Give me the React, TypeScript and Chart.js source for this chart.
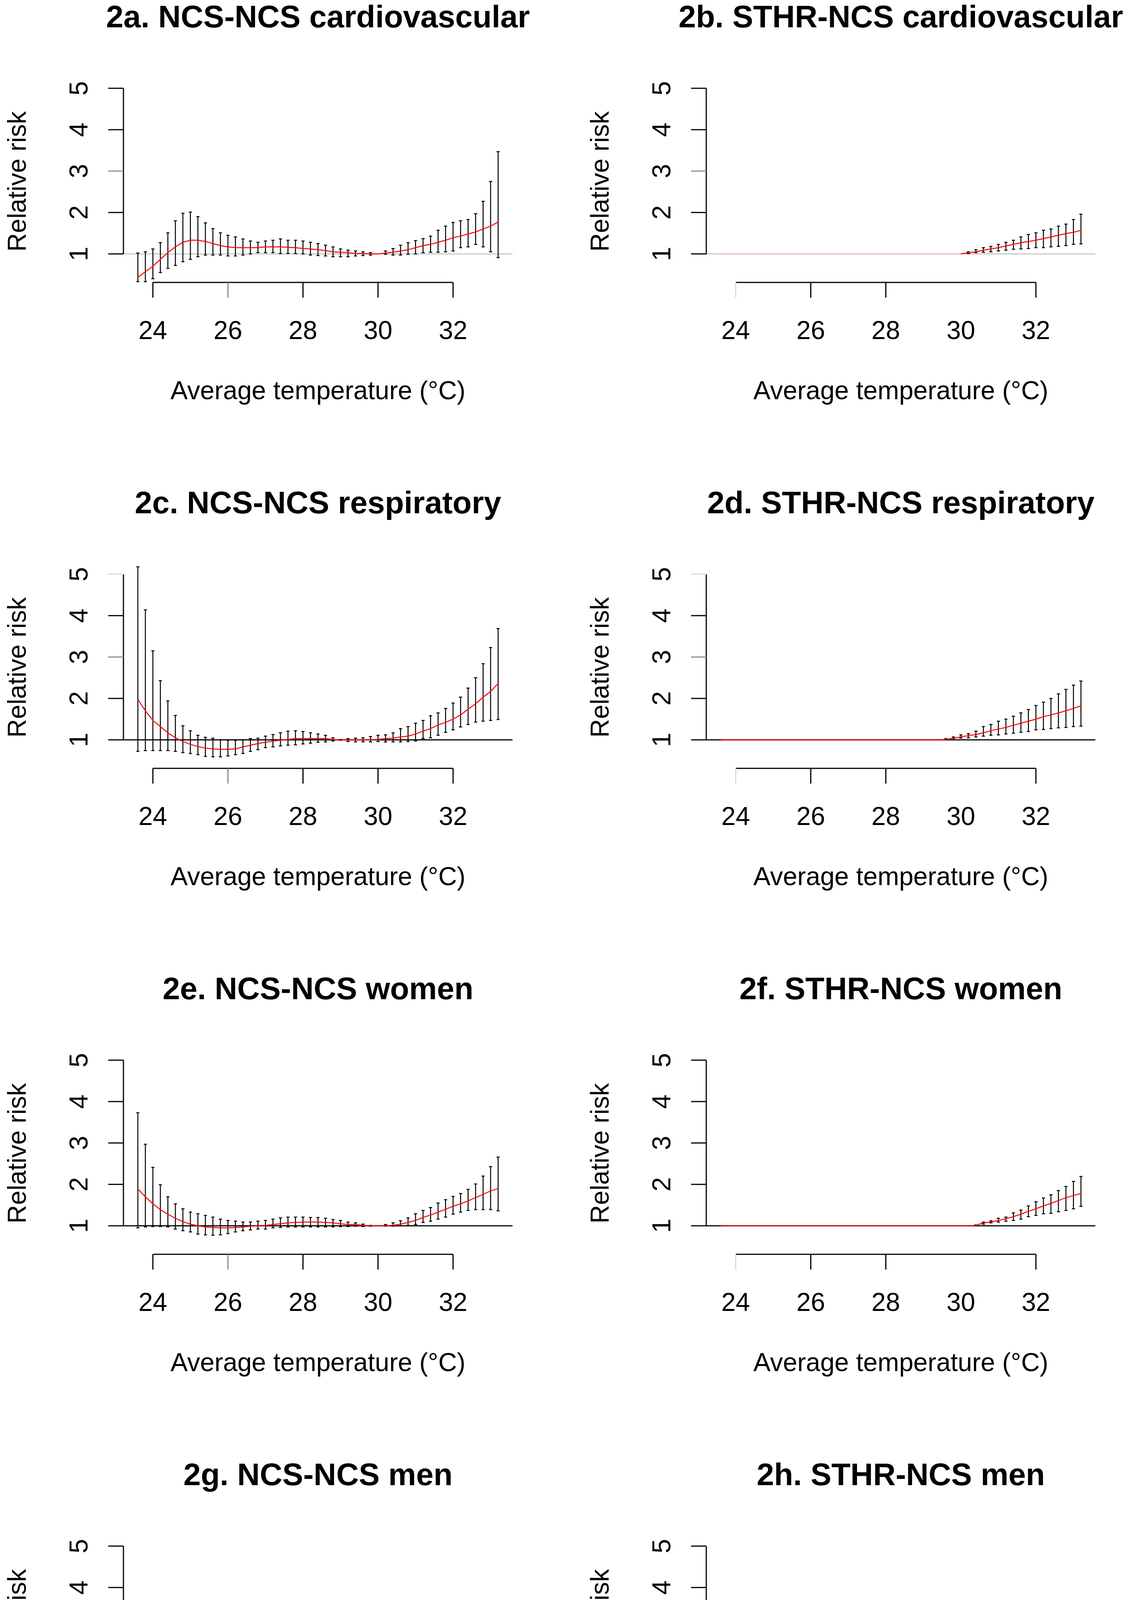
import React, { useEffect, useRef } from "react";
import { Chart, registerables } from "chart.js";

Chart.register(...registerables);

// ---------- data ----------
const temperature = [
  23.6, 23.8, 24.0, 24.2, 24.4, 24.6, 24.8, 25.0, 25.2, 25.4, 25.6, 25.8, 26.0, 26.2, 26.4, 26.6, 26.8,
  27.0, 27.2, 27.4, 27.6, 27.8, 28.0, 28.2, 28.4, 28.6, 28.8, 29.0, 29.2, 29.4, 29.6, 29.8, 30.0,
  30.2, 30.4, 30.6, 30.8, 31.0, 31.2, 31.4, 31.6, 31.8, 32.0, 32.2, 32.4, 32.6, 32.8, 33.0, 33.2,
];

const xTickValues = [24, 26, 28, 30, 32];
const xTickLabels = ["24", "26", "28", "30", "32"];
const yTickValues = [1, 2, 3, 4, 5];
const yTickLabels = ["1", "2", "3", "4", "5"];

const xAxisTitle = "Average temperature (°C)";
const yAxisTitle = "Relative risk";

// 2a NCS-NCS cardiovascular
const ncsCardioRR = [
  0.43, 0.57, 0.70, 0.87, 1.03, 1.17, 1.28, 1.33, 1.33, 1.30, 1.25, 1.20, 1.17, 1.15, 1.15, 1.15, 1.15,
  1.17, 1.17, 1.17, 1.16, 1.15, 1.13, 1.12, 1.10, 1.08, 1.05, 1.04, 1.03, 1.01, 1.01, 1.00, 1.00,
  1.02, 1.04, 1.07, 1.10, 1.15, 1.20, 1.23, 1.28, 1.33, 1.39, 1.43, 1.48, 1.53, 1.60, 1.67, 1.77,
];
const ncsCardioLow = [
  0.33, 0.33, 0.40, 0.55, 0.65, 0.72, 0.81, 0.87, 0.93, 0.97, 0.97, 0.97, 0.95, 0.95, 0.97, 1.00, 1.03,
  1.03, 1.03, 1.01, 1.01, 1.01, 1.00, 0.97, 0.96, 0.95, 0.93, 0.93, 0.93, 0.95, 0.96, 0.97, 1.00,
  0.99, 0.97, 0.97, 0.99, 1.00, 1.03, 1.04, 1.04, 1.05, 1.07, 1.15, 1.17, 1.23, 1.17, 1.05, 0.91,
];
const ncsCardioHigh = [
  1.02, 1.05, 1.12, 1.27, 1.51, 1.80, 1.98, 2.01, 1.90, 1.75, 1.61, 1.51, 1.45, 1.41, 1.36, 1.31, 1.28,
  1.31, 1.33, 1.36, 1.33, 1.33, 1.31, 1.28, 1.25, 1.21, 1.17, 1.12, 1.09, 1.07, 1.05, 1.03, 1.00,
  1.07, 1.13, 1.21, 1.27, 1.32, 1.37, 1.43, 1.57, 1.67, 1.76, 1.80, 1.83, 1.97, 2.27, 2.75, 3.47,
];

// 2b STHR-NCS cardiovascular
const sthrCardioRR = [
  1, 1, 1, 1, 1, 1, 1, 1, 1, 1, 1, 1, 1, 1, 1, 1, 1,
  1, 1, 1, 1, 1, 1, 1, 1, 1, 1, 1, 1, 1, 1, 1, 1,
  1.03, 1.05, 1.09, 1.12, 1.15, 1.19, 1.23, 1.27, 1.30, 1.33, 1.37, 1.41, 1.45, 1.49, 1.52, 1.57,
];
const sthrCardioLow = [
  1, 1, 1, 1, 1, 1, 1, 1, 1, 1, 1, 1, 1, 1, 1, 1, 1,
  1, 1, 1, 1, 1, 1, 1, 1, 1, 1, 1, 1, 1, 1, 1, 1,
  1.01, 1.03, 1.04, 1.05, 1.07, 1.09, 1.11, 1.12, 1.13, 1.15, 1.15, 1.17, 1.18, 1.20, 1.23, 1.24,
];
const sthrCardioHigh = [
  1, 1, 1, 1, 1, 1, 1, 1, 1, 1, 1, 1, 1, 1, 1, 1, 1,
  1, 1, 1, 1, 1, 1, 1, 1, 1, 1, 1, 1, 1, 1, 1, 1,
  1.05, 1.10, 1.15, 1.18, 1.23, 1.28, 1.33, 1.41, 1.47, 1.51, 1.57, 1.60, 1.67, 1.72, 1.83, 1.96,
];

// 2c NCS-NCS respiratory
const ncsRespRR = [
  1.98, 1.70, 1.47, 1.32, 1.17, 1.05, 0.96, 0.89, 0.84, 0.80, 0.78, 0.77, 0.77, 0.78, 0.83, 0.87, 0.91,
  0.94, 0.97, 0.99, 1.01, 1.03, 1.03, 1.03, 1.03, 1.03, 1.01, 1.00, 1.00, 1.00, 1.00, 1.00, 1.01,
  1.03, 1.04, 1.07, 1.09, 1.14, 1.21, 1.27, 1.36, 1.42, 1.50, 1.60, 1.74, 1.87, 2.03, 2.17, 2.36,
];
const ncsRespLow = [
  0.72, 0.74, 0.74, 0.74, 0.74, 0.72, 0.69, 0.67, 0.64, 0.60, 0.59, 0.59, 0.61, 0.64, 0.67, 0.72, 0.76,
  0.81, 0.83, 0.85, 0.87, 0.88, 0.90, 0.92, 0.94, 0.95, 0.97, 0.99, 0.96, 0.95, 0.95, 0.95, 0.96,
  0.95, 0.95, 0.95, 0.96, 0.97, 1.03, 1.05, 1.11, 1.18, 1.24, 1.31, 1.37, 1.43, 1.45, 1.47, 1.49,
];
const ncsRespHigh = [
  5.18, 4.14, 3.15, 2.43, 1.94, 1.59, 1.34, 1.22, 1.11, 1.06, 1.04, 1.00, 0.99, 0.99, 1.00, 1.03, 1.04,
  1.09, 1.13, 1.17, 1.21, 1.22, 1.20, 1.17, 1.14, 1.11, 1.05, 1.01, 1.03, 1.04, 1.05, 1.08, 1.11,
  1.12, 1.17, 1.27, 1.32, 1.40, 1.47, 1.58, 1.65, 1.76, 1.89, 2.03, 2.25, 2.50, 2.84, 3.23, 3.69,
];

// 2d STHR-NCS respiratory
const sthrRespRR = [
  1, 1, 1, 1, 1, 1, 1, 1, 1, 1, 1, 1, 1, 1, 1, 1, 1,
  1, 1, 1, 1, 1, 1, 1, 1, 1, 1, 1, 1, 1, 1.01, 1.04, 1.07,
  1.10, 1.13, 1.17, 1.22, 1.26, 1.30, 1.35, 1.40, 1.45, 1.50, 1.56, 1.60, 1.65, 1.70, 1.76, 1.82,
];
const sthrRespLow = [
  1, 1, 1, 1, 1, 1, 1, 1, 1, 1, 1, 1, 1, 1, 1, 1, 1,
  1, 1, 1, 1, 1, 1, 1, 1, 1, 1, 1, 1, 1, 1.00, 1.03, 1.04,
  1.05, 1.07, 1.09, 1.11, 1.12, 1.14, 1.16, 1.18, 1.20, 1.24, 1.25, 1.27, 1.29, 1.30, 1.32, 1.33,
];
const sthrRespHigh = [
  1, 1, 1, 1, 1, 1, 1, 1, 1, 1, 1, 1, 1, 1, 1, 1, 1,
  1, 1, 1, 1, 1, 1, 1, 1, 1, 1, 1, 1, 1, 1.03, 1.07, 1.12,
  1.15, 1.21, 1.32, 1.37, 1.45, 1.50, 1.57, 1.65, 1.73, 1.83, 1.91, 2.00, 2.11, 2.22, 2.32, 2.42,
];

// 2e NCS-NCS women
const ncsWomenRR = [
  1.89, 1.70, 1.53, 1.39, 1.28, 1.18, 1.10, 1.04, 1.00, 0.97, 0.96, 0.95, 0.95, 0.96, 0.97, 0.99, 1.00,
  1.01, 1.03, 1.05, 1.07, 1.08, 1.09, 1.09, 1.09, 1.08, 1.07, 1.05, 1.03, 1.03, 1.01, 1.00, 1.00,
  1.00, 1.01, 1.04, 1.08, 1.13, 1.20, 1.26, 1.33, 1.40, 1.47, 1.53, 1.60, 1.68, 1.76, 1.84, 1.90,
];
const ncsWomenLow = [
  0.95, 0.97, 0.98, 0.98, 0.97, 0.92, 0.88, 0.85, 0.80, 0.78, 0.77, 0.78, 0.81, 0.85, 0.88, 0.90, 0.92,
  0.92, 0.95, 0.96, 0.97, 0.97, 0.97, 0.97, 0.97, 0.97, 0.97, 0.98, 0.98, 0.99, 0.98, 0.99, 1.00,
  0.99, 0.99, 1.00, 1.01, 1.03, 1.08, 1.11, 1.16, 1.21, 1.28, 1.33, 1.37, 1.39, 1.39, 1.39, 1.36,
];
const ncsWomenHigh = [
  3.73, 2.97, 2.41, 1.99, 1.70, 1.53, 1.41, 1.33, 1.29, 1.25, 1.21, 1.16, 1.13, 1.11, 1.09, 1.09, 1.11,
  1.13, 1.16, 1.19, 1.21, 1.21, 1.21, 1.20, 1.20, 1.18, 1.15, 1.13, 1.09, 1.07, 1.04, 1.01, 1.00,
  1.03, 1.07, 1.12, 1.19, 1.29, 1.37, 1.44, 1.55, 1.63, 1.71, 1.78, 1.88, 2.01, 2.20, 2.43, 2.66,
];

// 2f STHR-NCS women
const sthrWomenRR = [
  1, 1, 1, 1, 1, 1, 1, 1, 1, 1, 1, 1, 1, 1, 1, 1, 1,
  1, 1, 1, 1, 1, 1, 1, 1, 1, 1, 1, 1, 1, 1, 1, 1,
  1, 1.01, 1.07, 1.09, 1.13, 1.17, 1.22, 1.28, 1.35, 1.41, 1.48, 1.54, 1.61, 1.68, 1.73, 1.78,
];
const sthrWomenLow = [
  1, 1, 1, 1, 1, 1, 1, 1, 1, 1, 1, 1, 1, 1, 1, 1, 1,
  1, 1, 1, 1, 1, 1, 1, 1, 1, 1, 1, 1, 1, 1, 1, 1,
  1, 1.00, 1.04, 1.07, 1.09, 1.11, 1.13, 1.16, 1.22, 1.25, 1.29, 1.30, 1.34, 1.37, 1.41, 1.47,
];
const sthrWomenHigh = [
  1, 1, 1, 1, 1, 1, 1, 1, 1, 1, 1, 1, 1, 1, 1, 1, 1,
  1, 1, 1, 1, 1, 1, 1, 1, 1, 1, 1, 1, 1, 1, 1, 1,
  1, 1.02, 1.09, 1.12, 1.18, 1.21, 1.31, 1.38, 1.48, 1.58, 1.67, 1.75, 1.85, 1.95, 2.07, 2.19,
];

// 2g NCS-NCS men
const ncsMenRR = [
  1.00, 0.99, 0.97, 0.96, 0.95, 0.94, 0.92, 0.91, 0.91, 0.91, 0.92, 0.92, 0.94, 0.95, 0.97, 0.99, 1.01,
  1.02, 1.04, 1.05, 1.05, 1.05, 1.05, 1.05, 1.05, 1.03, 1.03, 1.02, 1.01, 1.01, 1.00, 1.00, 1.00,
  1.00, 1.00, 1.01, 1.02, 1.04, 1.06, 1.09, 1.13, 1.17, 1.23, 1.29, 1.37, 1.45, 1.54, 1.61, 1.67,
];
const ncsMenLow = [
  0.61, 0.64, 0.68, 0.71, 0.74, 0.77, 0.79, 0.79, 0.79, 0.79, 0.80, 0.83, 0.84, 0.87, 0.90, 0.92, 0.94,
  0.95, 0.96, 0.97, 0.98, 0.98, 0.98, 0.98, 0.98, 0.99, 0.99, 0.99, 0.99, 0.99, 0.99, 1.00, 1.00,
  0.99, 0.98, 0.97, 0.97, 0.98, 0.99, 1.00, 1.03, 1.05, 1.09, 1.14, 1.19, 1.22, 1.24, 1.26, 1.28,
];
const ncsMenHigh = [
  1.71, 1.55, 1.43, 1.28, 1.21, 1.13, 1.08, 1.05, 1.03, 1.03, 1.05, 1.05, 1.05, 1.05, 1.06, 1.08, 1.10,
  1.12, 1.14, 1.16, 1.18, 1.18, 1.17, 1.14, 1.11, 1.08, 1.06, 1.05, 1.04, 1.03, 1.01, 1.01, 1.00,
  1.01, 1.03, 1.04, 1.06, 1.10, 1.14, 1.18, 1.22, 1.27, 1.36, 1.44, 1.54, 1.67, 1.81, 1.97, 2.14,
];

// 2h STHR-NCS men
const sthrMenRR = [
  1, 1, 1, 1, 1, 1, 1, 1, 1, 1, 1, 1, 1, 1, 1, 1, 1,
  1, 1, 1, 1, 1, 1, 1, 1, 1, 1, 1, 1, 1, 1, 1, 1,
  1.01, 1.03, 1.05, 1.06, 1.08, 1.10, 1.13, 1.15, 1.17, 1.19, 1.21, 1.24, 1.26, 1.27, 1.29, 1.32,
];
const sthrMenLow = [
  1, 1, 1, 1, 1, 1, 1, 1, 1, 1, 1, 1, 1, 1, 1, 1, 1,
  1, 1, 1, 1, 1, 1, 1, 1, 1, 1, 1, 1, 1, 1, 1, 1,
  1.00, 1.00, 1.01, 1.03, 1.03, 1.04, 1.05, 1.05, 1.06, 1.06, 1.08, 1.09, 1.09, 1.09, 1.09, 1.09,
];
const sthrMenHigh = [
  1, 1, 1, 1, 1, 1, 1, 1, 1, 1, 1, 1, 1, 1, 1, 1, 1,
  1, 1, 1, 1, 1, 1, 1, 1, 1, 1, 1, 1, 1, 1, 1, 1,
  1.04, 1.05, 1.08, 1.10, 1.13, 1.18, 1.22, 1.25, 1.30, 1.32, 1.35, 1.39, 1.43, 1.48, 1.52, 1.55,
];

// ---------- layout / style ----------
const PAGE_W = 2885;
const PAGE_H = 4781;
const PANEL_W = 1492;
const PANEL_H = 1244;
const FONT = '"Liberation Sans", Arial, Helvetica, sans-serif';
const LIGHT = "#d9d9d9";
const MID = "#8c8c8c";

type PanelSpec = {
  title: string;
  rr: number[];
  low: number[];
  high: number[];
  col: number;
  row: number;
  refLine: string;
  xAxisLine: string;
  xTickColors: (string | null)[];
  yTickColors: string[];
  fadeFlat: boolean;
};

const leftTicks = ["#000", MID, "#000", "#000", "#000"];
const rightTicks = [LIGHT, "#000", "#000", null, "#000"];

const panels: PanelSpec[] = [
  { title: "2a. NCS-NCS cardiovascular", rr: ncsCardioRR, low: ncsCardioLow, high: ncsCardioHigh, col: 0, row: 0,
    refLine: "#c8c8c8", xAxisLine: "#000", xTickColors: leftTicks, yTickColors: ["#000", "#000", MID, "#000", "#000"], fadeFlat: false },
  { title: "2b. STHR-NCS cardiovascular", rr: sthrCardioRR, low: sthrCardioLow, high: sthrCardioHigh, col: 1, row: 0,
    refLine: "#c8c8c8", xAxisLine: "#000", xTickColors: rightTicks, yTickColors: ["#000", "#000", MID, "#000", "#000"], fadeFlat: true },
  { title: "2c. NCS-NCS respiratory", rr: ncsRespRR, low: ncsRespLow, high: ncsRespHigh, col: 0, row: 1,
    refLine: "#000", xAxisLine: "#000", xTickColors: leftTicks, yTickColors: ["#000", "#000", MID, "#000", LIGHT], fadeFlat: false },
  { title: "2d. STHR-NCS respiratory", rr: sthrRespRR, low: sthrRespLow, high: sthrRespHigh, col: 1, row: 1,
    refLine: "#000", xAxisLine: "#000", xTickColors: rightTicks, yTickColors: ["#000", "#000", MID, "#000", LIGHT], fadeFlat: false },
  { title: "2e. NCS-NCS women", rr: ncsWomenRR, low: ncsWomenLow, high: ncsWomenHigh, col: 0, row: 2,
    refLine: "#000", xAxisLine: "#000", xTickColors: leftTicks, yTickColors: ["#000", "#000", "#000", "#000", "#000"], fadeFlat: false },
  { title: "2f. STHR-NCS women", rr: sthrWomenRR, low: sthrWomenLow, high: sthrWomenHigh, col: 1, row: 2,
    refLine: "#000", xAxisLine: "#000", xTickColors: rightTicks, yTickColors: ["#000", "#000", "#000", "#000", "#000"], fadeFlat: false },
  { title: "2g. NCS-NCS men", rr: ncsMenRR, low: ncsMenLow, high: ncsMenHigh, col: 0, row: 3,
    refLine: "#000", xAxisLine: LIGHT, xTickColors: ["#000", "#555", "#000", "#000", "#000"], yTickColors: ["#000", "#000", "#000", "#000", "#000"], fadeFlat: false },
  { title: "2h. STHR-NCS men", rr: sthrMenRR, low: sthrMenLow, high: sthrMenHigh, col: 1, row: 3,
    refLine: "#000", xAxisLine: LIGHT, xTickColors: rightTicks, yTickColors: ["#000", "#000", "#000", "#000", "#000"], fadeFlat: false },
];

function makeRPlugin(spec: PanelSpec) {
  return {
    id: "rStyle",
    beforeDatasetsDraw(chart: any) {
      const ctx = chart.ctx as CanvasRenderingContext2D;
      const xs = chart.scales.x;
      const ys = chart.scales.y;
      const area = chart.chartArea;
      ctx.save();
      // reference line at RR = 1
      ctx.strokeStyle = spec.refLine;
      ctx.lineWidth = 3;
      ctx.beginPath();
      ctx.moveTo(area.left, ys.getPixelForValue(1));
      ctx.lineTo(area.right, ys.getPixelForValue(1));
      ctx.stroke();
      // confidence interval bars
      ctx.strokeStyle = "#000";
      ctx.lineWidth = 2.5;
      temperature.forEach((t, i) => {
        const lo = spec.low[i];
        const hi = spec.high[i];
        if (Math.abs(hi - lo) < 0.005) return;
        const px = xs.getPixelForValue(t);
        const py1 = ys.getPixelForValue(lo);
        const py2 = ys.getPixelForValue(hi);
        ctx.beginPath();
        ctx.moveTo(px, py1);
        ctx.lineTo(px, py2);
        ctx.moveTo(px - 4, py1);
        ctx.lineTo(px + 4, py1);
        ctx.moveTo(px - 4, py2);
        ctx.lineTo(px + 4, py2);
        ctx.stroke();
      });
      ctx.restore();
    },
    afterDraw(chart: any) {
      const ctx = chart.ctx as CanvasRenderingContext2D;
      const xs = chart.scales.x;
      const ys = chart.scales.y;
      const area = chart.chartArea;
      const tickLen = 39;
      ctx.save();
      ctx.lineWidth = 3;
      ctx.lineCap = "butt";
      // y axis
      const yTop = ys.getPixelForValue(yTickValues[yTickValues.length - 1]);
      const yBot = ys.getPixelForValue(yTickValues[0]);
      ctx.strokeStyle = "#000";
      ctx.beginPath();
      ctx.moveTo(area.left, yBot);
      ctx.lineTo(area.left, yTop);
      ctx.stroke();
      yTickValues.forEach((v, i) => {
        const py = ys.getPixelForValue(v);
        ctx.strokeStyle = spec.yTickColors[i];
        ctx.beginPath();
        ctx.moveTo(area.left - tickLen, py);
        ctx.lineTo(area.left, py);
        ctx.stroke();
      });
      // x axis
      const xAxisY = area.bottom + 1;
      ctx.strokeStyle = spec.xAxisLine;
      ctx.beginPath();
      ctx.moveTo(xs.getPixelForValue(xTickValues[0]), xAxisY);
      ctx.lineTo(xs.getPixelForValue(xTickValues[xTickValues.length - 1]), xAxisY);
      ctx.stroke();
      xTickValues.forEach((v, i) => {
        const c = spec.xTickColors[i];
        if (!c) return;
        const px = xs.getPixelForValue(v);
        ctx.strokeStyle = c;
        ctx.beginPath();
        ctx.moveTo(px, xAxisY);
        ctx.lineTo(px, xAxisY + tickLen);
        ctx.stroke();
      });
      // tick labels
      ctx.fillStyle = "#000";
      ctx.font = `66px ${FONT}`;
      ctx.textAlign = "center";
      ctx.textBaseline = "alphabetic";
      xTickValues.forEach((v, i) => {
        ctx.fillText(xTickLabels[i], xs.getPixelForValue(v), area.bottom + 146);
      });
      yTickValues.forEach((v, i) => {
        ctx.save();
        ctx.translate(area.left - 92, ys.getPixelForValue(v));
        ctx.rotate(-Math.PI / 2);
        ctx.fillText(yTickLabels[i], 0, 0);
        ctx.restore();
      });
      // axis titles
      const cx = (area.left + area.right) / 2;
      const cy = (area.top + area.bottom) / 2;
      ctx.fillText(xAxisTitle, cx, area.bottom + 300);
      ctx.save();
      ctx.translate(area.left - 250, cy);
      ctx.rotate(-Math.PI / 2);
      ctx.fillText(yAxisTitle, 0, 0);
      ctx.restore();
      // main title
      ctx.font = `bold 80px ${FONT}`;
      ctx.fillText(spec.title, cx, 70);
      ctx.restore();
    },
  };
}

function Panel({ spec }: { spec: PanelSpec }) {
  const ref = useRef<HTMLCanvasElement | null>(null);
  useEffect(() => {
    if (!ref.current) return;
    const red = "#ff0000";
    const chart = new Chart(ref.current, {
      type: "line",
      data: {
        datasets: [
          {
            data: temperature.map((t, i) => ({ x: t, y: spec.rr[i] })),
            borderColor: red,
            borderWidth: 2.5,
            pointRadius: 0,
            tension: 0,
            fill: false,
            segment: spec.fadeFlat
              ? {
                  borderColor: (c: any) =>
                    c.p0.parsed.y === 1 && c.p1.parsed.y === 1 ? "#f1b9b9" : red,
                }
              : undefined,
          } as any,
        ],
      },
      options: {
        animation: false,
        responsive: false,
        devicePixelRatio: 1,
        events: [],
        layout: { padding: { left: 316, right: PANEL_W - 1312, top: 207, bottom: PANEL_H - 722 } },
        scales: {
          x: { type: "linear", min: 23.216, max: 33.584, display: false },
          y: { type: "linear", min: 0.32, max: 5.18, display: false },
        },
        plugins: { legend: { display: false }, tooltip: { enabled: false }, title: { display: false } },
      },
      plugins: [makeRPlugin(spec)],
    });
    return () => chart.destroy();
  }, [spec]);
  return (
    <canvas
      ref={ref}
      width={PANEL_W}
      height={PANEL_H}
      style={{
        position: "absolute",
        left: spec.col * PANEL_W,
        top: spec.row * PANEL_H,
        width: PANEL_W,
        height: PANEL_H,
        display: "block",
      }}
    />
  );
}

export default function App() {
  useEffect(() => {
    document.body.style.margin = "0";
    document.body.style.background = "#ffffff";
  }, []);
  return (
    <div
      style={{
        position: "relative",
        width: PAGE_W,
        height: PAGE_H,
        overflow: "hidden",
        background: "#ffffff",
      }}
    >
      {panels.map((p) => (
        <Panel key={p.title} spec={p} />
      ))}
    </div>
  );
}
